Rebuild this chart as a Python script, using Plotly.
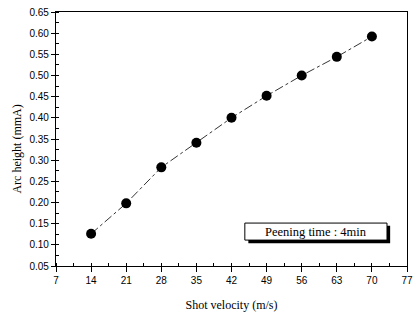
import plotly.graph_objects as go

velocity = [14, 21, 28, 35, 42, 49, 56, 63, 70]
arc_height = [0.126, 0.198, 0.283, 0.341, 0.400, 0.452, 0.500, 0.544, 0.592]
x_ticks = [7, 14, 21, 28, 35, 42, 49, 56, 63, 70, 77]
y_ticks = [0.05, 0.10, 0.15, 0.20, 0.25, 0.30, 0.35, 0.40, 0.45, 0.50, 0.55, 0.60, 0.65]
legend_text = "Peening time : 4min"
x_title = "Shot velocity (m/s)"
y_title = "Arc height (mmA)"

fig = go.Figure()
fig.add_trace(go.Scatter(
    x=velocity, y=arc_height, mode="lines+markers",
    line=dict(color="black", width=0.8, dash="dashdot"),
    marker=dict(color="black", size=10),
    showlegend=False,
))

tickfont = dict(family="Liberation Sans, Arial", size=10, color="black")
titlefont = dict(family="Liberation Serif, Times New Roman", size=12, color="black")
fig.update_xaxes(
    range=[7, 77], tickvals=x_ticks, ticktext=[str(v) for v in x_ticks],
    ticks="outside", ticklen=5, tickcolor="black", showline=True, linecolor="black",
    linewidth=1.2, mirror=True, showgrid=False, zeroline=False, tickfont=tickfont,
    automargin=False,
    minor=dict(dtick=3.5, ticks="inside", ticklen=3, tickcolor="black", showgrid=False),
    title=dict(text=x_title, font=titlefont, standoff=15),
)
fig.update_yaxes(
    range=[0.05, 0.65], tickvals=y_ticks, ticktext=[f"{v:.2f}" for v in y_ticks],
    ticks="outside", ticklen=4, tickcolor="black", showline=True, linecolor="black",
    linewidth=1.2, mirror=True, showgrid=False, zeroline=False, tickfont=tickfont,
    automargin=False,
    minor=dict(dtick=0.025, ticks="inside", ticklen=3, tickcolor="black", showgrid=False),
)
fig.add_annotation(xref="paper", yref="paper", x=-0.11, y=0.46, xanchor="center", yanchor="middle",
                   text=y_title, textangle=-90, showarrow=False, font=titlefont)

# legend-like box with shadow (paper coordinates)
fig.add_shape(type="rect", xref="paper", yref="paper", x0=0.548, x1=0.952, y0=0.09, y1=0.158,
              fillcolor="black", line=dict(width=0))
fig.add_shape(type="rect", xref="paper", yref="paper", x0=0.538, x1=0.943, y0=0.102, y1=0.169,
              fillcolor="white", line=dict(color="black", width=1))
fig.add_annotation(xref="paper", yref="paper", x=0.7405, y=0.1355, xanchor="center", yanchor="middle",
                   text=legend_text, showarrow=False,
                   font=dict(family="Liberation Serif, Times New Roman", size=12.5, color="black"))

fig.update_layout(
    width=414, height=320,
    margin=dict(l=56, r=7, t=12, b=54),
    paper_bgcolor="white", plot_bgcolor="white",
)
fig.write_html("out.html", config={"displayModeBar": False},
               post_script="document.body.style.margin='0';")
